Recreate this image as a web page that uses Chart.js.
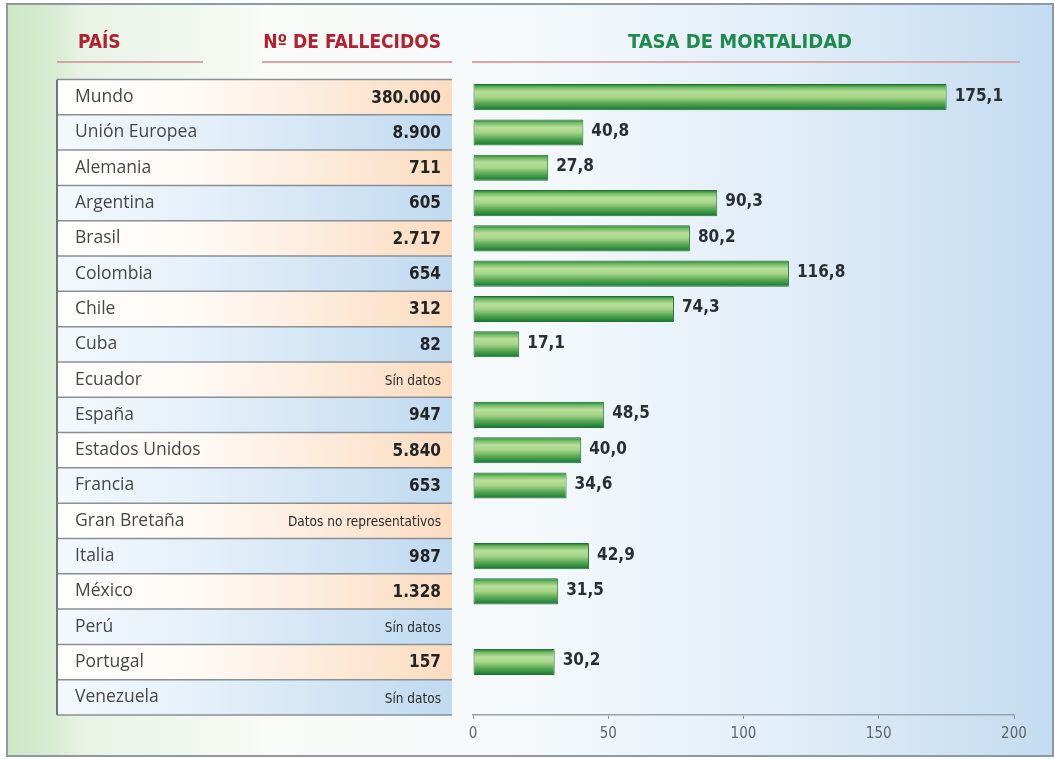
<!DOCTYPE html>
<html><head><meta charset="utf-8">
<script src="https://cdn.jsdelivr.net/npm/chart.js@4/dist/chart.umd.min.js"></script>
<style>html,body{margin:0;padding:0;background:#fff;overflow:hidden}#wrap{width:1055px;height:759px;position:relative}</style>
</head><body><div id="wrap"><canvas id="c" width="1055" height="759"></canvas></div>
<script>
const countries = ['Mundo','Unión Europea','Alemania','Argentina','Brasil','Colombia','Chile','Cuba','Ecuador','España','Estados Unidos','Francia','Gran Bretaña','Italia','México','Perú','Portugal','Venezuela'];
const deaths = ['380.000','8.900','711','605','2.717','654','312','82','Sín datos','947','5.840','653','Datos no representativos','987','1.328','Sín datos','157','Sín datos'];
const mortality = [175.1,40.8,27.8,90.3,80.2,116.8,74.3,17.1,null,48.5,40.0,34.6,null,42.9,31.5,null,30.2,null];
const xTicks = [0,50,100,150,200];
const headers = ['PAÍS','Nº DE FALLECIDOS','TASA DE MORTALIDAD'];

const COND = '"DejaVu Sans Condensed","Liberation Sans Narrow","Roboto",sans-serif';
const NARROW = '"Liberation Sans Narrow","DejaVu Sans Condensed",sans-serif';
const NAMEFONT = '"Open Sans",Roboto,sans-serif';

const decimalFmt = v => v.toFixed(1).replace('.', ',');

const bgPlugin = {
  id: 'bg',
  beforeDraw(chart) {
    const c = chart.ctx, W = chart.width, H = chart.height;
    c.save();
    const g = c.createLinearGradient(8, 0, W, 0);
    g.addColorStop(0, '#cde7c6');
    g.addColorStop(0.045, '#d8ecd2');
    g.addColorStop(0.07, '#e8f3e5');
    g.addColorStop(0.25, '#f8fbf6');
    g.addColorStop(0.5, '#f5f9fc');
    g.addColorStop(0.75, '#e1edf8');
    g.addColorStop(1, '#c3dcf0');
    c.fillStyle = '#ffffff';
    c.fillRect(0, 0, W, H);
    c.fillStyle = g;
    c.fillRect(8, 5, W - 10, H - 8);
    c.strokeStyle = '#8d9aa5';
    c.lineWidth = 2;
    c.strokeRect(7, 4, W - 9, H - 7);

    // headers
    c.textBaseline = 'middle';
    c.font = 'bold 19px ' + COND;
    c.fillStyle = '#b3202f';
    c.textAlign = 'left';
    c.fillText(headers[0], 78, 43);
    c.textAlign = 'right';
    c.fillText(headers[1], 441, 43);
    c.fillStyle = '#1e8a4c';
    c.textAlign = 'center';
    c.font = 'bold 20px ' + COND;
    c.fillText(headers[2], 740, 43);
    c.strokeStyle = '#d9a4a4';
    c.lineWidth = 2;
    [[57, 203], [262, 452], [472, 1020]].forEach(([a, b]) => {
      c.beginPath(); c.moveTo(a, 62); c.lineTo(b, 62); c.stroke();
    });

    // table rows
    const ys = chart.scales.y;
    const rowH = (ys.bottom - ys.top) / countries.length;
    const L = 57, R = 452;
    countries.forEach((n, i) => {
      const cy = ys.getPixelForValue(i);
      const top = cy - rowH / 2;
      const rg = c.createLinearGradient(L, 0, R, 0);
      if (i % 2 === 0) {
        rg.addColorStop(0, '#ffffff'); rg.addColorStop(0.35, '#fffaf5'); rg.addColorStop(1, '#fbdcc0');
      } else {
        rg.addColorStop(0, '#f4f9fd'); rg.addColorStop(0.4, '#e3eff9'); rg.addColorStop(1, '#c0daf0');
      }
      c.fillStyle = rg;
      c.fillRect(L, top, R - L, rowH);
    });
    c.strokeStyle = '#8a8f94';
    c.lineWidth = 1.5;
    for (let i = 0; i <= countries.length; i++) {
      const y = ys.top + i * rowH;
      c.beginPath(); c.moveTo(L, y); c.lineTo(R, y); c.stroke();
    }
    c.strokeStyle = '#6f767c';
    c.lineWidth = 2;
    c.beginPath(); c.moveTo(L, ys.top); c.lineTo(L, ys.bottom); c.stroke();

    // deaths column
    c.textAlign = 'right';
    deaths.forEach((d, i) => {
      const cy = ys.getPixelForValue(i);
      if (/^[\d.]+$/.test(d)) {
        c.font = 'bold 17px ' + COND;
        c.fillStyle = '#232323';
        c.fillText(d, 441, cy + 1);
      } else {
        c.font = '13.5px ' + COND;
        c.fillStyle = '#2a2a2a';
        c.fillText(d, 441, cy + 2);
      }
    });
    c.restore();
  },
  afterDatasetsDraw(chart) {
    const c = chart.ctx;
    const meta = chart.getDatasetMeta(0);
    c.save();
    c.font = 'bold 17px ' + NARROW;
    c.fillStyle = '#2a2f33';
    c.textAlign = 'left';
    c.textBaseline = 'middle';
    meta.data.forEach((bar, i) => {
      const v = mortality[i];
      if (v === null || v === undefined) return;
      c.fillText(decimalFmt(v), bar.x + 8, bar.y - 1);
    });
    c.restore();
  }
};

const barFill = ctx => {
  const chart = ctx.chart;
  if (!chart.chartArea || !chart.scales.y) return '#6cb45f';
  const y = chart.scales.y.getPixelForValue(ctx.dataIndex);
  const h = 13;
  const g = chart.ctx.createLinearGradient(0, y - h, 0, y + h);
  g.addColorStop(0, '#1d7433');
  g.addColorStop(0.12, '#6cb760');
  g.addColorStop(0.3, '#b9df9a');
  g.addColorStop(0.5, '#a6d588');
  g.addColorStop(0.75, '#55a551');
  g.addColorStop(0.9, '#2c8a3e');
  g.addColorStop(1, '#1b6c30');
  return g;
};

new Chart(document.getElementById('c'), {
  type: 'bar',
  data: {
    labels: countries,
    datasets: [{
      data: mortality,
      backgroundColor: barFill,
      borderColor: '#1f7436',
      borderWidth: 1,
      borderSkipped: false,
      borderRadius: 1,
      barPercentage: 0.74,
      categoryPercentage: 1
    }]
  },
  options: {
    indexAxis: 'y',
    responsive: false,
    devicePixelRatio: 1,
    animation: false,
    layout: { padding: { top: 79.5, left: 75, right: 41, bottom: 0 } },
    plugins: { legend: { display: false }, tooltip: { enabled: false } },
    scales: {
      y: {
        type: 'category',
        grid: { display: false },
        border: { display: false },
        ticks: {
          crossAlign: 'far',
          padding: 0,
          color: '#474747',
          font: { family: NAMEFONT, size: 17.5 }
        },
        afterFit(s) { s.width = 398; }
      },
      x: {
        type: 'linear',
        min: 0,
        max: 200,
        afterBuildTicks(s) { s.ticks = xTicks.map(v => ({ value: v })); },
        grid: { drawOnChartArea: false, drawTicks: true, tickLength: 4, color: '#8f979e', lineWidth: 1 },
        border: { display: true, color: '#9aa3aa', width: 1.5 },
        ticks: {
          padding: 6,
          color: '#5f666b',
          font: { family: NARROW, size: 15 },
          maxRotation: 0
        },
        afterFit(s) { s.height = 44; }
      }
    }
  },
  plugins: [bgPlugin]
});
</script>
</body></html>
